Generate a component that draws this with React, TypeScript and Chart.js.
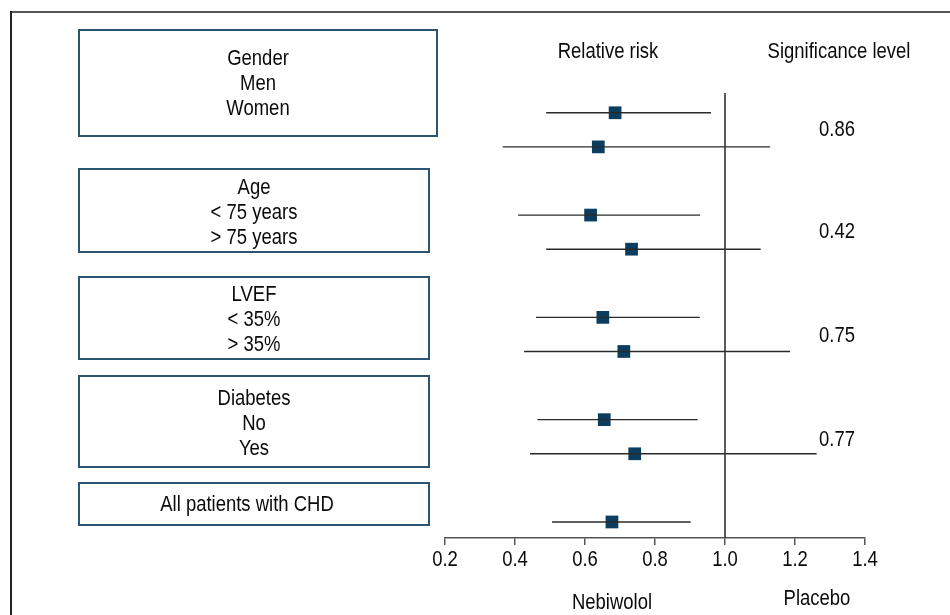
import React, { useEffect, useRef } from "react";
import { Chart, registerables } from "chart.js";

Chart.register(...registerables);

// ---- data ----
const rowLabels = ["Men", "Women", "< 75 years", "> 75 years", "< 35%", "> 35%", "No", "Yes", "All patients with CHD"];
const rowPos = [0, 1, 3, 4, 6, 7, 9, 10, 12];
const relRisk = [0.686, 0.638, 0.616, 0.733, 0.651, 0.711, 0.655, 0.742, 0.677];
const ciLow = [0.489, 0.365, 0.409, 0.489, 0.46, 0.426, 0.464, 0.443, 0.506];
const ciHigh = [0.96, 1.129, 0.929, 1.102, 0.928, 1.186, 0.922, 1.262, 0.902];
const pValues = ["0.86", "0.42", "0.75", "0.77"];
const pRowPos = [0.45, 3.45, 6.5, 9.55];
const xTicks = [0.2, 0.4, 0.6, 0.8, 1.0, 1.2, 1.4];
const xTickLabels = ["0.2", "0.4", "0.6", "0.8", "1.0", "1.2", "1.4"];
const groupLabels = [
  ["Gender", "Men", "Women"],
  ["Age", "< 75 years", "> 75 years"],
  ["LVEF", "< 35%", "> 35%"],
  ["Diabetes", "No", "Yes"],
  ["All patients with CHD"],
];

const FONT = '"Liberation Sans", Arial, sans-serif';
const FONT_SIZE = 22;
const NARROW = 0.84;
const TEXT_DY = 1.5;
const Y_MIN = -0.58;
const Y_MAX = 12.47;

// layout of the label boxes (pixels)
const boxRects = [
  { x: 79, y: 30, w: 358, h: 106, cx: 258, ty: 57 },
  { x: 79, y: 169, w: 350, h: 83, cx: 254, ty: 186 },
  { x: 79, y: 277, w: 350, h: 82, cx: 254, ty: 293 },
  { x: 79, y: 376, w: 350, h: 91, cx: 254, ty: 397 },
  { x: 79, y: 483, w: 350, h: 42, cx: 247, ty: 503 },
];

function narrowText(ctx: CanvasRenderingContext2D, t: string, x: number, y: number) {
  ctx.save();
  ctx.translate(x, y + TEXT_DY);
  ctx.scale(NARROW, 1);
  ctx.fillText(t, 0, 0);
  ctx.restore();
}

const decorPlugin = {
  id: "decor",
  afterDraw(chart: any) {
    const ctx = chart.ctx as CanvasRenderingContext2D;
    const xs = chart.scales.x;
    const ys = chart.scales.y;
    ctx.save();
    // outer frame
    ctx.strokeStyle = "#555";
    ctx.lineWidth = 2;
    ctx.beginPath();
    ctx.moveTo(950, 12);
    ctx.lineTo(11, 12);
    ctx.stroke();
    ctx.strokeStyle = "#222";
    ctx.beginPath();
    ctx.moveTo(11, 11);
    ctx.lineTo(11, 615);
    ctx.stroke();

    // boxes
    ctx.font = `${FONT_SIZE}px ${FONT}`;
    ctx.textAlign = "center";
    ctx.textBaseline = "middle";
    boxRects.forEach((b, i) => {
      ctx.strokeStyle = "#2b5573";
      ctx.lineWidth = 2;
      ctx.strokeRect(b.x, b.y, b.w, b.h);
      ctx.fillStyle = "#0a0a0a";
      groupLabels[i].forEach((t, j) => {
        narrowText(ctx, t, b.cx, b.ty + j * 25);
      });
    });

    // headers
    ctx.fillStyle = "#0a0a0a";
    narrowText(ctx, "Relative risk", 608, 50);
    narrowText(ctx, "Significance level", 839, 50);
    narrowText(ctx, "Nebiwolol", 612, 601);
    narrowText(ctx, "Placebo", 817, 597);

    // x tick labels, placed by the x scale
    xs.ticks.forEach((t: any, i: number) => {
      narrowText(ctx, xTickLabels[i] ?? Number(t.value).toFixed(1), xs.getPixelForValue(t.value), 558);
    });

    // p-values
    pValues.forEach((p, i) => {
      narrowText(ctx, p, xs.getPixelForValue(1.32), ys.getPixelForValue(pRowPos[i]));
    });
    ctx.restore();
  },
};

export default function App() {
  const ref = useRef<HTMLCanvasElement>(null);
  useEffect(() => {
    if (!ref.current) return;
    const ciSets = rowPos.map((r, i) => ({
      data: [
        { x: ciLow[i], y: r },
        { x: ciHigh[i], y: r },
      ],
      showLine: true,
      borderColor: "#2a2a2a",
      borderWidth: 1.4,
      pointRadius: 0,
      label: rowLabels[i],
    }));
    const chart = new Chart(ref.current, {
      type: "scatter",
      data: {
        datasets: [
          {
            data: [
              { x: 1, y: Y_MIN },
              { x: 1, y: Y_MAX },
            ],
            showLine: true,
            borderColor: "#333",
            borderWidth: 1.6,
            pointRadius: 0,
            label: "ref",
          } as any,
          ...ciSets,
          {
            data: rowPos.map((r, i) => ({ x: relRisk[i], y: r })),
            pointStyle: "rect",
            pointRadius: 9,
            pointBackgroundColor: "#0b3d5e",
            pointBorderColor: "#0b3d5e",
            pointBorderWidth: 0,
            label: "RR",
          },
        ],
      },
      options: {
        responsive: false,
        animation: false,
        layout: { padding: { left: 445, right: 85, top: 93, bottom: 0 } },
        plugins: { legend: { display: false }, tooltip: { enabled: false } },
        scales: {
          x: {
            type: "linear",
            min: 0.2,
            max: 1.4,
            afterBuildTicks(scale: any) {
              scale.ticks = xTicks.map((v) => ({ value: v }));
            },
            afterFit(scale: any) {
              scale.height = 77;
            },
            ticks: {
              callback: (v: any) => Number(v).toFixed(1),
              font: { family: FONT, size: FONT_SIZE },
              color: "rgba(0,0,0,0)",
              padding: 1,
              maxRotation: 0,
            },
            grid: {
              drawOnChartArea: false,
              drawTicks: true,
              tickLength: 7,
              color: "#555",
              lineWidth: 1.5,
            },
            border: { display: true, color: "#555", width: 1.5 },
          },
          y: {
            type: "linear",
            reverse: true,
            min: Y_MIN,
            max: Y_MAX,
            display: false,
          },
        },
      },
      plugins: [decorPlugin],
    } as any);
    return () => chart.destroy();
  }, []);
  return (
    <canvas
      ref={ref}
      width={950}
      height={615}
      style={{ position: "absolute", left: 0, top: 0, display: "block", background: "#fff" }}
    />
  );
}
